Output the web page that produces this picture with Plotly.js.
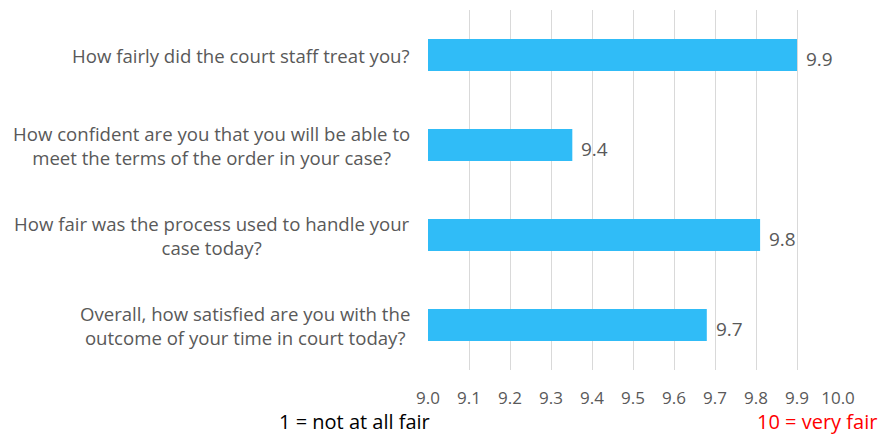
<!DOCTYPE html>
<html>
<head>
<meta charset="utf-8">
<script src="https://cdn.plot.ly/plotly-3.0.1.min.js"></script>
<style>html,body{margin:0;padding:0;background:#fff;}#chart{width:881px;height:434px;}</style>
</head>
<body>
<div id="chart"></div>
<script>
const categories = [
  "How fairly did the court staff treat you?",
  "How confident are you that you will be able to<br>meet the terms of the order in your case?",
  "How fair was the process used to handle your<br>case today?",
  "Overall, how satisfied are you with the<br>outcome of your time in court today?"
];
const values = [9.90, 9.352, 9.81, 9.68];
const tickValues = [9.0, 9.1, 9.2, 9.3, 9.4, 9.5, 9.6, 9.7, 9.8, 9.9, 10.0];
const tickLabels = ["9.0","9.1","9.2","9.3","9.4","9.5","9.6","9.7","9.8","9.9","10.0"];
const scaleLow = "1 = not at all fair";
const scaleHigh = "10 = very fair";

const font = "'Open Sans', 'Noto Sans', sans-serif";
const grey = "#595959";

const trace = {
  type: "bar",
  orientation: "h",
  x: values,
  y: categories,
  marker: {color: "#30BCF7"},
  width: 0.356,
  hoverinfo: "none"
};

const annotations = [];
categories.forEach((c, i) => {
  annotations.push({
    xref: "paper", yref: "y", x: 0, y: c, xanchor: "right", yanchor: "middle",
    xshift: -16, text: c, showarrow: false, align: "center",
    font: {family: font, size: 18.6, color: grey}
  });
  annotations.push({
    xref: "x", yref: "y", x: values[i], y: c, xanchor: "left", yanchor: "middle",
    xshift: 7, yshift: -4, text: (Math.round(values[i] * 10) / 10).toFixed(1), showarrow: false,
    font: {family: font, size: 19, color: grey}
  });
});
annotations.push({
  xref: "x", yref: "paper", x: 9.0, y: 0, yshift: -51, xshift: 4, xanchor: "right", yanchor: "middle",
  text: scaleLow, showarrow: false, font: {family: font, size: 20, color: "#000000"}
});
annotations.push({
  xref: "x", yref: "paper", x: 10.0, y: 0, yshift: -51, xshift: 41, xanchor: "right", yanchor: "middle",
  text: scaleHigh, showarrow: false, font: {family: font, size: 20, color: "#FF0000"}
});

const layout = {
  width: 881, height: 434,
  margin: {l: 428, r: 43, t: 10, b: 64},
  paper_bgcolor: "#ffffff", plot_bgcolor: "#ffffff",
  showlegend: false,
  xaxis: {
    range: [9.0, 10.0],
    tickvals: tickValues, ticktext: tickLabels,
    showgrid: true, gridcolor: "#d9d9d9", gridwidth: 1,
    zeroline: false, showline: false, ticks: "",
    tickfont: {family: font, size: 17, color: grey},
    ticklabelstandoff: 16,
    fixedrange: true
  },
  yaxis: {
    autorange: "reversed",
    showticklabels: false, showgrid: false, zeroline: false, showline: false, ticks: "",
    fixedrange: true
  },
  annotations: annotations
};

Plotly.newPlot("chart", [trace], layout, {displayModeBar: false, staticPlot: true});
</script>
</body>
</html>
